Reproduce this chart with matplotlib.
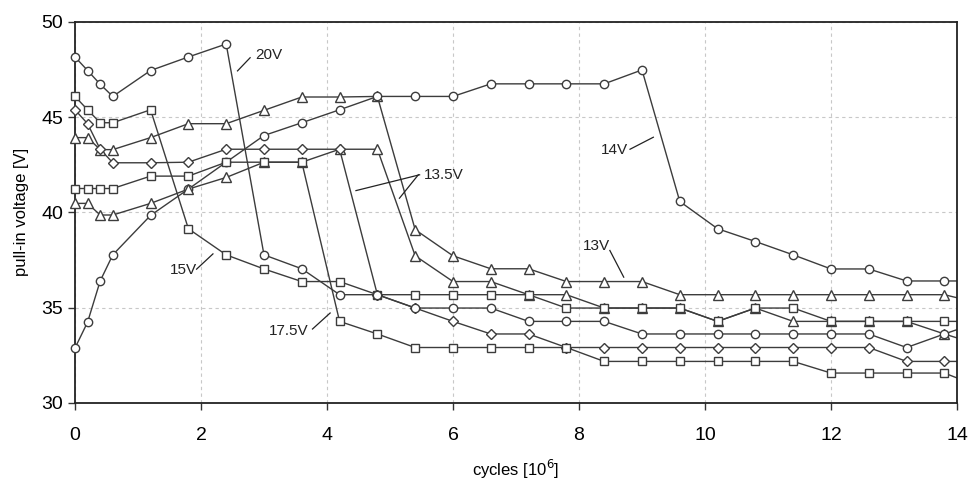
import numpy as np
import matplotlib
matplotlib.use("Agg")
import matplotlib.pyplot as plt

plt.rcParams['font.family'] = ['Liberation Sans', 'DejaVu Sans']

# cycles [10^6] - sampling points (last one lies past the axis end, line is clipped)
cycles = [0, 0.2, 0.4, 0.6, 1.2, 1.8, 2.4, 3.0, 3.6, 4.2, 4.8, 5.4, 6.0, 6.6,
          7.2, 7.8, 8.4, 9.0, 9.6, 10.2, 10.8, 11.4, 12.0, 12.6, 13.2, 13.8, 14.4]

# pull-in voltage [V] per stress voltage
v13 = [43.92, 43.92, 43.29, 43.29, 43.92, 44.65, 44.65, 45.35, 46.05, 46.05, 46.08,
       39.09, 37.72, 37.04, 37.04, 36.37, 36.37, 36.37, 35.68, 35.68, 35.68, 35.68,
       35.68, 35.68, 35.68, 35.68, 35.2]
v14 = [32.88, 34.24, 36.40, 37.77, 39.84, 41.22, 42.63, 44.03, 44.70, 45.38, 46.08,
       46.08, 46.08, 46.74, 46.74, 46.74, 46.74, 47.47, 40.57, 39.14, 38.47, 37.77,
       37.03, 37.03, 36.40, 36.40, 36.40]
v135b = [40.47, 40.47, 39.86, 39.86, 40.47, 41.22, 41.83, 42.63, 42.63, 43.31, 43.31,
         37.72, 36.37, 36.37, 35.68, 35.68, 34.98, 34.98, 34.98, 34.28, 34.98, 34.28,
         34.28, 34.28, 34.28, 33.62, 33.0]
v135a = [45.38, 44.65, 43.31, 42.60, 42.60, 42.63, 43.31, 43.31, 43.31, 43.31, 35.68,
         34.98, 34.28, 33.62, 33.62, 32.91, 32.91, 32.91, 32.91, 32.91, 32.91, 32.91,
         32.91, 32.91, 32.18, 32.18, 32.18]
v175 = [41.25, 41.25, 41.25, 41.25, 41.90, 41.90, 42.63, 42.63, 42.63, 34.28, 33.62,
        32.91, 32.91, 32.91, 32.91, 32.91, 32.18, 32.18, 32.18, 32.18, 32.18, 32.18,
        31.57, 31.57, 31.57, 31.57, 30.8]
v15 = [46.08, 45.38, 44.70, 44.70, 45.38, 39.14, 37.77, 37.03, 36.37, 36.37, 35.68,
       35.68, 35.68, 35.68, 35.68, 34.98, 34.98, 34.98, 34.98, 34.28, 34.98, 34.98,
       34.28, 34.28, 34.28, 34.28, 34.28]
v20 = [48.15, 47.44, 46.72, 46.08, 47.44, 48.15, 48.83, 37.77, 37.04, 35.68, 35.68,
       34.98, 34.98, 34.98, 34.28, 34.28, 34.28, 33.62, 33.62, 33.62, 33.62, 33.62,
       33.62, 33.62, 32.91, 33.62, 34.3]

# drawing order matters: later markers hide earlier ones
series = [
    (v13, '^', 6.5),
    (v14, 'o', 6),
    (v135b, '^', 6.5),
    (v135a, 'D', 5.2),
    (v175, 's', 5.8),
    (v15, 's', 5.8),
    (v20, 'o', 6),
]

# label text, text position, leader line(s) in data coords
labels = [
    ("20V", (2.86, 48.25), [((2.78, 48.11), (2.58, 47.42))]),
    ("14V", (8.34, 43.28), [((8.81, 43.31), (9.18, 43.94))]),
    ("13.5V", (5.53, 41.95), [((5.47, 41.97), (4.46, 41.14)),
                              ((5.45, 41.97), (5.15, 40.74))]),
    ("13V", (8.06, 38.24), [((8.49, 38.0), (8.71, 36.6))]),
    ("15V", (1.50, 36.95), [((1.93, 37.02), (2.19, 37.82))]),
    ("17.5V", (3.08, 33.80), [((3.77, 33.88), (4.05, 34.72))]),
]

line_col = '#3c3c3c'

fig = plt.figure(figsize=(9.70, 4.79), dpi=100)
ax = fig.add_axes([0.0773, 0.1587, 0.9093, 0.7960])

x = np.array(cycles)
inside = x <= 14
for i, (vals, mk, ms) in enumerate(series):
    y = np.array(vals)
    ax.plot(x, y, '-', color=line_col, lw=1.0, zorder=2)
    ax.plot(x[inside], y[inside], linestyle='none', marker=mk, ms=ms,
            mfc='white', mec=line_col, mew=1.0, clip_on=False, zorder=3 + i * 0.1)

for txt, (tx, ty), leaders in labels:
    ax.text(tx, ty, txt, fontsize=11, color='#222222', va='center', ha='left')
    for (x0, y0), (x1, y1) in leaders:
        ax.plot([x0, x1], [y0, y1], color='#222222', lw=0.9, zorder=2)

ax.set_xlim(0, 14)
ax.set_ylim(30, 50)
ax.set_xticks(np.arange(0, 15, 2))
ax.set_yticks(np.arange(30, 51, 5))
ax.grid(True, color='#c8c8c8', linestyle=(0, (3, 3)), lw=0.8)
ax.set_axisbelow(True)
ax.tick_params(axis='both', direction='out', length=5, width=1, color='#333333',
               labelsize=14)
ax.tick_params(axis='x', pad=12)
for s in ax.spines.values():
    s.set_color('#222222')
    s.set_linewidth(1.3)

ax.set_xlabel(r"cycles [10$^6$]", fontsize=12, labelpad=10)
ax.set_ylabel("pull-in voltage [V]", fontsize=12, labelpad=9)

fig.savefig("out.png", dpi=100)
